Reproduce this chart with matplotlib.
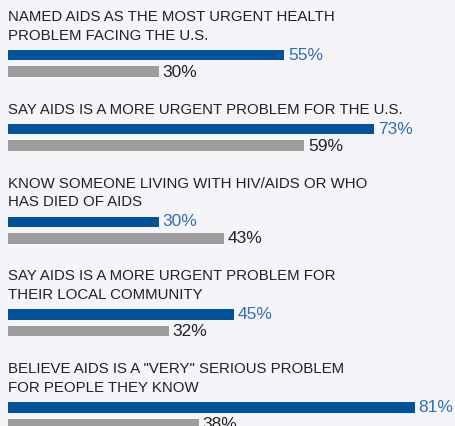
import matplotlib
matplotlib.use('Agg')
import matplotlib.pyplot as plt

# survey questions (label lines) and the two series
labels = [
    ['NAMED AIDS AS THE MOST URGENT HEALTH', 'PROBLEM FACING THE U.S.'],
    ['SAY AIDS IS A MORE URGENT PROBLEM FOR THE U.S.'],
    ['KNOW SOMEONE LIVING WITH HIV/AIDS OR WHO', 'HAS DIED OF AIDS'],
    ['SAY AIDS IS A MORE URGENT PROBLEM FOR', 'THEIR LOCAL COMMUNITY'],
    ['BELIEVE AIDS IS A "VERY" SERIOUS PROBLEM', 'FOR PEOPLE THEY KNOW'],
]
blue_vals = [55, 73, 30, 45, 81]
gray_vals = [30, 59, 43, 32, 38]

bg = '#f4f4f9'
blue = '#00529b'
gray = '#9c9c9c'
blue_txt = '#2f6fb7'

fig = plt.figure(figsize=(4.55, 4.26), dpi=100, facecolor=bg)
ax = fig.add_axes([0, 0, 1, 1])
ax.set_facecolor(bg)

# x: percent, 0 sits 8px in from the left, ~5.04 px per percent
px = 5.02
ax.set_xlim(-8 / px, (455 - 8) / px)
# y: pixel rows from the top
ax.set_ylim(426, 0)

line_gap = 18.7
y = 17
for lines, b, g in zip(labels, blue_vals, gray_vals):
    for ln in lines:
        ax.text(0, y, ln, fontsize=10.8, color='#222222', va='center', ha='left',
                family='Liberation Sans')
        y += line_gap
    y_blue = y - line_gap + 19.5
    y_gray = y_blue + 16.5
    ax.barh(y_blue, b, height=10.5, color=blue, left=0)
    ax.barh(y_gray, g, height=10.5, color=gray, left=0)
    ax.text(b + 0.8, y_blue, f'{b}%', fontsize=12.5, color=blue_txt, va='center',
            ha='left', family='Liberation Sans')
    ax.text(g + 0.8, y_gray + 0.5, f'{g}%', fontsize=12.5, color='#222222', va='center',
            ha='left', family='Liberation Sans')
    y = y_gray + 38

ax.axis('off')
fig.savefig('out.png', dpi=100, facecolor=bg)
